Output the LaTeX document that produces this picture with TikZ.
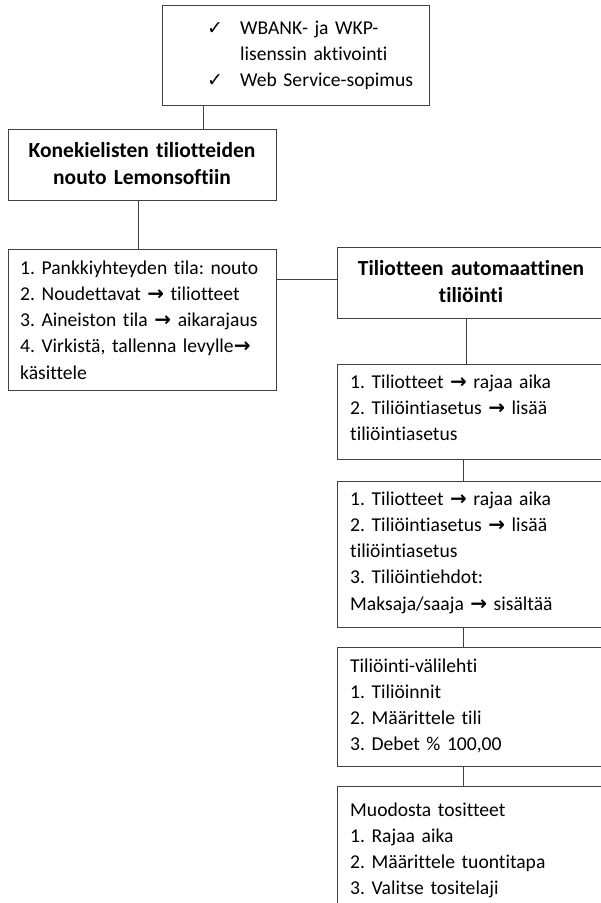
\documentclass[tikz,border=0pt]{standalone}
\usepackage{fontspec}
\setmainfont{Carlito}[Ligatures={NoCommon,NoContextual,NoRequired}, RawFeature={-liga;-clig;-dlig;-calt}]
\newfontfamily\symfont{DejaVu Sans}
\usetikzlibrary{calc}
\newcommand\arr{{\symfont\bfseries\fontsize{20}{26}\selectfont →}}
\newcommand\chk{{\symfont\fontsize{19}{26}\selectfont ✓}}
\frenchspacing
\begin{document}
\begin{tikzpicture}[x=1pt,y=-1pt,
  box/.style={draw=black!75, line width=0.9pt, inner sep=0pt, outer sep=0pt, anchor=north west},
  conn/.style={draw=black!75, line width=0.9pt},
  txt/.style={inner sep=0pt, anchor=base west, align=left, text width=#1, font=\frenchspacing\fontsize{19.6}{26.3}\selectfont},
  ttl/.style={inner sep=0pt, anchor=base, align=center, text width=#1, font=\frenchspacing\bfseries\fontsize{21.5}{27.5}\selectfont},
]
\useasboundingbox (0,0) rectangle (601,903);
\fill[white] (0,0) rectangle (601,903);
\clip (0,0) rectangle (601,903);

% boxes
\node[box, minimum width=267pt, minimum height=100pt] (b1) at (162,5) {};
\node[box, minimum width=268pt, minimum height=71pt] (b2) at (8,129) {};
\node[box, minimum width=268pt, minimum height=141pt] (b3) at (8,249) {};
\node[box, minimum width=268pt, minimum height=71pt] (b4) at (337,247) {};
\node[box, minimum width=268pt, minimum height=95pt] (b5) at (337,364) {};
\node[box, minimum width=268pt, minimum height=146pt] (b6) at (337,481) {};
\node[box, minimum width=268pt, minimum height=119pt] (b7) at (337,647) {};
\node[box, minimum width=268pt, minimum height=140pt] (b8) at (337,786) {};

% texts
\node[txt=240pt] (t1) at (207,34) {\makebox[33pt][l]{\chk}WBANK- ja WKP-\\\hspace*{33pt}lisenssin aktivointi\\\makebox[33pt][l]{\chk}Web Service-sopimus};
\node[ttl=260pt] (t2) at (142,157) {Konekielisten tiliotteiden\\nouto Lemonsoftiin};
\node[txt=255pt] (t3) at (20,274) {1. Pankkiyhteyden tila: nouto\\2. Noudettavat \arr{} tiliotteet\\3. Aineiston tila \arr{} aikarajaus\\4. Virkistä, tallenna levylle\arr\\käsittele};
\node[ttl=260pt] (t4) at (471,275) {Tiliotteen automaattinen\\tiliöinti};
\node[txt=250pt] (t5) at (350,388) {1. Tiliotteet \arr{} rajaa aika\\2. Tiliöintiasetus \arr{} lisää\\tiliöintiasetus};
\node[txt=250pt] (t6) at (350,505) {1. Tiliotteet \arr{} rajaa aika\\2. Tiliöintiasetus \arr{} lisää\\tiliöintiasetus\\3. Tiliöintiehdot:\\Maksaja/saaja \arr{} sisältää};
\node[txt=250pt] (t7) at (350,672) {Tiliöinti-välilehti\\1. Tiliöinnit\\2. Määrittele tili\\3. Debet \% 100,00};
\node[txt=250pt] (t8) at (350,816) {Muodosta tositteet\\1. Rajaa aika\\2. Määrittele tuontitapa\\3. Valitse tositelaji};

% connector guides
\coordinate (c1) at (203,0);
\coordinate (c2) at (138,0);
\coordinate (c3) at (466,0);
\coordinate (c4) at (463,0);
\coordinate (h) at (0,279);

% connectors
\draw[conn] (b1.south -| c1) -- (b2.north -| c1);
\draw[conn] (b2.south -| c2) -- (b3.north -| c2);
\draw[conn] (b3.east |- h) -- (b4.west |- h);
\draw[conn] (b4.south -| c3) -- (b5.north -| c3);
\draw[conn] (b5.south -| c4) -- (b6.north -| c4);
\draw[conn] (b6.south -| c4) -- (b7.north -| c4);
\draw[conn] (b7.south -| c4) -- (b8.north -| c4);
\end{tikzpicture}
\end{document}
